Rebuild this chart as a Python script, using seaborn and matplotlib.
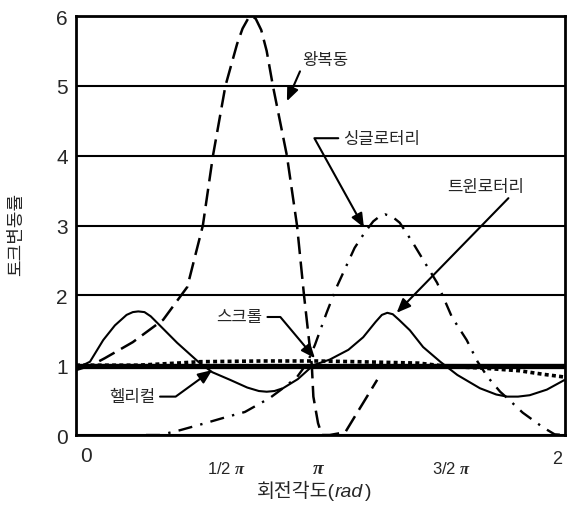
import numpy as np
import matplotlib
matplotlib.use("Agg")
import matplotlib.pyplot as plt
import seaborn as sns

# values (x in radians)
recip_x = [0, 0.2, 0.37, 0.73, 1.12, 1.43, 1.63, 1.76, 1.92, 2.07, 2.14, 2.21, 2.26, 2.31,
           2.38, 2.45, 2.53, 2.71, 2.84, 2.93, 3.03, 3.05, 3.11, 3.16, 3.26, 3.46, 3.58,
           3.69, 3.87]
recip_y = [0.93, 1.0, 1.1, 1.33, 1.65, 2.12, 3.0, 4.0, 5.0, 5.6, 5.82, 5.96, 6.0, 5.96,
           5.8, 5.5, 5.0, 4.0, 3.0, 2.0, 1.0, 0.55, 0.17, 0.0, 0.0, 0.04, 0.26, 0.46, 0.79]

single_x = [0.9, 1.08, 1.34, 1.63, 1.94, 2.17, 2.49, 2.66, 2.84, 2.97, 3.07, 3.22, 3.35, 3.58,
            3.71, 3.82, 3.9, 3.97, 4.06, 4.16, 4.33, 4.46, 4.64, 4.83, 5.02, 5.16, 5.29,
            5.45, 5.54, 5.74, 6.0, 6.15, 6.28]
single_y = [0.0, 0.0, 0.07, 0.16, 0.26, 0.33, 0.53, 0.67, 0.83, 1.03, 1.29, 1.75, 2.12, 2.68,
            2.9, 3.06, 3.13, 3.16, 3.13, 3.04, 2.75, 2.51, 2.18, 1.69, 1.36, 1.05, 0.83,
            0.62, 0.53, 0.32, 0.11, 0.01, 0.0]

twin_x = [0, 0.18, 0.35, 0.5, 0.65, 0.73, 0.8, 0.88, 0.96, 1.05, 1.3, 1.57, 1.75, 1.98, 2.2,
          2.35, 2.45, 2.55, 2.66, 2.85, 3.05, 3.26, 3.5, 3.69, 3.85, 3.93, 4.0, 4.07, 4.15,
          4.29, 4.46, 4.68, 4.9, 5.19, 5.4, 5.54, 5.68, 5.83, 6.05, 6.28]
twin_y = [0.95, 1.05, 1.36, 1.57, 1.72, 1.76, 1.77, 1.76, 1.7, 1.6, 1.32, 1.05, 0.9, 0.79, 0.68,
          0.63, 0.62, 0.63, 0.67, 0.8, 1.0, 1.08, 1.22, 1.4, 1.62, 1.72, 1.75, 1.73, 1.65,
          1.5, 1.26, 1.05, 0.86, 0.67, 0.58, 0.55, 0.55, 0.57, 0.65, 0.79]

scroll_x = [0, 0.8, 1.3, 1.6, 2.4, 3.1, 3.6, 4.4, 4.8, 5.2, 5.7, 6.0, 6.28]
scroll_y = [1.0, 1.0, 1.03, 1.05, 1.06, 1.06, 1.05, 1.03, 0.98, 0.96, 0.92, 0.87, 0.83]

helical_x = [0, 1.57, 3.14, 4.71, 6.28]
helical_y = [0.99, 0.99, 0.99, 0.99, 0.99]

tick_pos = [0, np.pi / 2, np.pi, 3 * np.pi / 2, 2 * np.pi]
tick_labels = ["0", "1/2 $\\pi$", "$\\pi$", "3/2 $\\pi$", "2"]

sns.set_style("white")
plt.rcParams["font.family"] = ["Liberation Sans", "Noto Sans CJK KR", "DejaVu Sans"]
plt.rcParams["mathtext.fontset"] = "custom"
plt.rcParams["mathtext.rm"] = "Liberation Sans"
plt.rcParams["mathtext.it"] = "Liberation Serif:italic:bold"

fig, ax = plt.subplots(figsize=(5.74, 5.06), dpi=100)
fig.subplots_adjust(left=0.1324, right=0.9843, bottom=0.1383, top=0.9664)

sns.lineplot(x=helical_x, y=helical_y, ax=ax, color="black", linewidth=3.8, zorder=3)
sns.lineplot(x=scroll_x, y=scroll_y, ax=ax, color="black", linewidth=2.6,
             linestyle=(0, (1.1, 0.9)), zorder=2)
sns.lineplot(x=twin_x, y=twin_y, ax=ax, color="black", linewidth=1.5, zorder=4)
sns.lineplot(x=recip_x, y=recip_y, ax=ax, color="black", linewidth=1.8,
             linestyle=(0, (7, 3)), zorder=4)
sns.lineplot(x=single_x, y=single_y, ax=ax, color="black", linewidth=1.7,
             linestyle=(0, (6, 3.5, 1, 3.5)), zorder=4)

ax.set_xlim(0, 2 * np.pi)
ax.set_ylim(0, 6)
ax.set_yticks(range(7))
ax.set_yticklabels([str(v) for v in range(7)], fontsize=15)
ax.tick_params(axis="y", length=0, pad=6)
ax.set_xticks(tick_pos)
ax.set_xticklabels([])
ax.tick_params(axis="x", direction="inout", length=7, width=1.5)
ax.yaxis.grid(True, color="black", linewidth=1.5)
ax.set_axisbelow(True)
for s in ax.spines.values():
    s.set_linewidth(2)
    s.set_color("black")

# staggered x labels
lab_x = [0.13, 1.93, 3.12, 4.82, 6.18]
lab_y = [-0.05, -0.079, -0.079, -0.079, -0.057]
lab_fs = [15, 12, 14, 12, 13]
tr = ax.get_xaxis_transform()
for x, y, t, fs in zip(lab_x, lab_y, tick_labels, lab_fs):
    ax.text(x, y, t, transform=tr, ha="center", va="center", fontsize=fs)

# x label: "회전각도(" + italic "rad" + ")"
y0 = 0.018
t1 = fig.text(257 / 574, y0, "회전각도(", ha="left", va="baseline", fontsize=14)
fig.canvas.draw()
x1 = t1.get_window_extent().x1 / fig.bbox.width
t2 = fig.text(x1, y0, "rad", ha="left", va="baseline", fontsize=14, style="italic")
fig.canvas.draw()
x2 = t2.get_window_extent().x1 / fig.bbox.width
fig.text(x2 + 0.002, y0, ")", ha="left", va="baseline", fontsize=14)

ax.set_ylabel("토크변동률", fontsize=13)
ax.yaxis.set_label_coords(-0.105, 0.48)

arrow = dict(arrowstyle="-|>,head_length=0.6,head_width=0.25", color="black",
             lw=1.5, mutation_scale=14, shrinkA=1, shrinkB=0)

ax.annotate("왕복동", xy=(2.71, 4.78), xytext=(3.20, 5.38), ha="center", va="center",
            fontsize=12, arrowprops=dict(arrow, relpos=(0, 0)))
ax.annotate("싱글로터리", xy=(3.70, 2.97), xytext=(3.43, 4.25), ha="left", va="center",
            fontsize=12, arrowprops=dict(arrow, connectionstyle="angle,angleA=180,angleB=119,rad=0"))
ax.annotate("트윈로터리", xy=(4.12, 1.75), xytext=(4.77, 3.56), ha="left", va="center",
            fontsize=12, arrowprops=dict(arrow, relpos=(0.85, 0)))
ax.annotate("스크롤", xy=(3.07, 1.10), xytext=(2.40, 1.69), ha="right", va="center",
            fontsize=12, arrowprops=dict(arrow, connectionstyle="angle,angleA=0,angleB=130,rad=0"))
ax.annotate("헬리컬", xy=(1.75, 0.93), xytext=(1.02, 0.55), ha="right", va="center",
            fontsize=12, arrowprops=dict(arrow, connectionstyle="angle,angleA=0,angleB=36,rad=0"))

fig.savefig("out.png", dpi=100)
